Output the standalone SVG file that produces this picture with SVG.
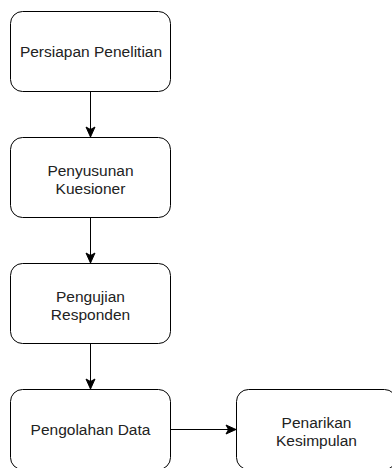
<svg xmlns="http://www.w3.org/2000/svg" width="392" height="468" viewBox="0 0 392 468">
<style>
.box{fill:#fff;stroke:#000;stroke-width:1}
.lbl{font-family:"Liberation Sans",Arial,Helvetica,sans-serif;font-size:15.5px;fill:#222;text-anchor:middle}
.edge{stroke:#000;stroke-width:1;fill:none}
</style>
<defs>
<marker id="arr" markerUnits="userSpaceOnUse" markerWidth="12" markerHeight="12" refX="11" refY="6" orient="auto" viewBox="0 0 12 12">
<path d="M1,1.5 L11,6 L1,10.5 L3.5,6 Z" fill="#000" stroke="#000" stroke-width="1"/>
</marker>
</defs>
<rect width="392" height="468" fill="#fff"/>
<g id="edges">
<path class="edge" d="M90.5,91.5 V137" marker-end="url(#arr)"/>
<path class="edge" d="M90.5,217.5 V263" marker-end="url(#arr)"/>
<path class="edge" d="M90.5,343.5 V389" marker-end="url(#arr)"/>
<path class="edge" d="M170.5,429.5 H236" marker-end="url(#arr)"/>
</g>
<g id="n1">
<rect class="box" x="10.5" y="11.5" width="160" height="80" rx="12"/>
<text class="lbl" x="91" y="57">Persiapan Penelitian</text>
</g>
<g id="n2">
<rect class="box" x="10.5" y="137.5" width="160" height="80" rx="12"/>
<text class="lbl" x="90.5" y="175.5">Penyusunan</text>
<text class="lbl" x="90.5" y="193.5">Kuesioner</text>
</g>
<g id="n3">
<rect class="box" x="10.5" y="263.5" width="160" height="80" rx="12"/>
<text class="lbl" x="90.5" y="301.5">Pengujian</text>
<text class="lbl" x="90.5" y="319.5">Responden</text>
</g>
<g id="n4">
<rect class="box" x="10.5" y="389.5" width="160" height="80" rx="12"/>
<text class="lbl" x="90.5" y="435">Pengolahan Data</text>
</g>
<g id="n5">
<rect class="box" x="236.5" y="389.5" width="160" height="80" rx="12"/>
<text class="lbl" x="316.5" y="427.5">Penarikan</text>
<text class="lbl" x="316.5" y="445.5">Kesimpulan</text>
</g>
</svg>
